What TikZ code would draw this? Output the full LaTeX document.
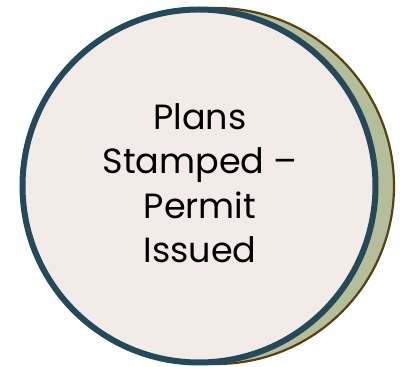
\documentclass[tikz,border=0pt]{standalone}
\usepackage{fontspec}
\setmainfont{Poppins}
\definecolor{ringteal}{HTML}{24495A}
\definecolor{backgreen}{HTML}{B4BE9A}
\definecolor{backbrown}{HTML}{5A3F10}
\definecolor{frontfill}{HTML}{F2EBE8}
\tikzset{
  backdisc/.style={circle, draw=backbrown, line width=2.2pt, fill=backgreen, minimum size=356pt, inner sep=0pt},
  frontdisc/.style={circle, draw=ringteal, line width=6pt, fill=frontfill, minimum size=353pt, inner sep=0pt},
  label/.style={align=center, font=\fontsize{35pt}{44.5pt}\selectfont, text=black}
}
\begin{document}
\begin{tikzpicture}[x=1pt,y=1pt]
\useasboundingbox (0,0) rectangle (408,367);
\begin{scope}
\clip (0,0) rectangle (408,367);
\node[backdisc] (back) at (216,181) {};
\node[frontdisc] (front) at (199,181) {};
\node[label] (txt) at (200,184) {Plans\\Stamped –\\Permit\\Issued};
\end{scope}
\end{tikzpicture}
\end{document}
